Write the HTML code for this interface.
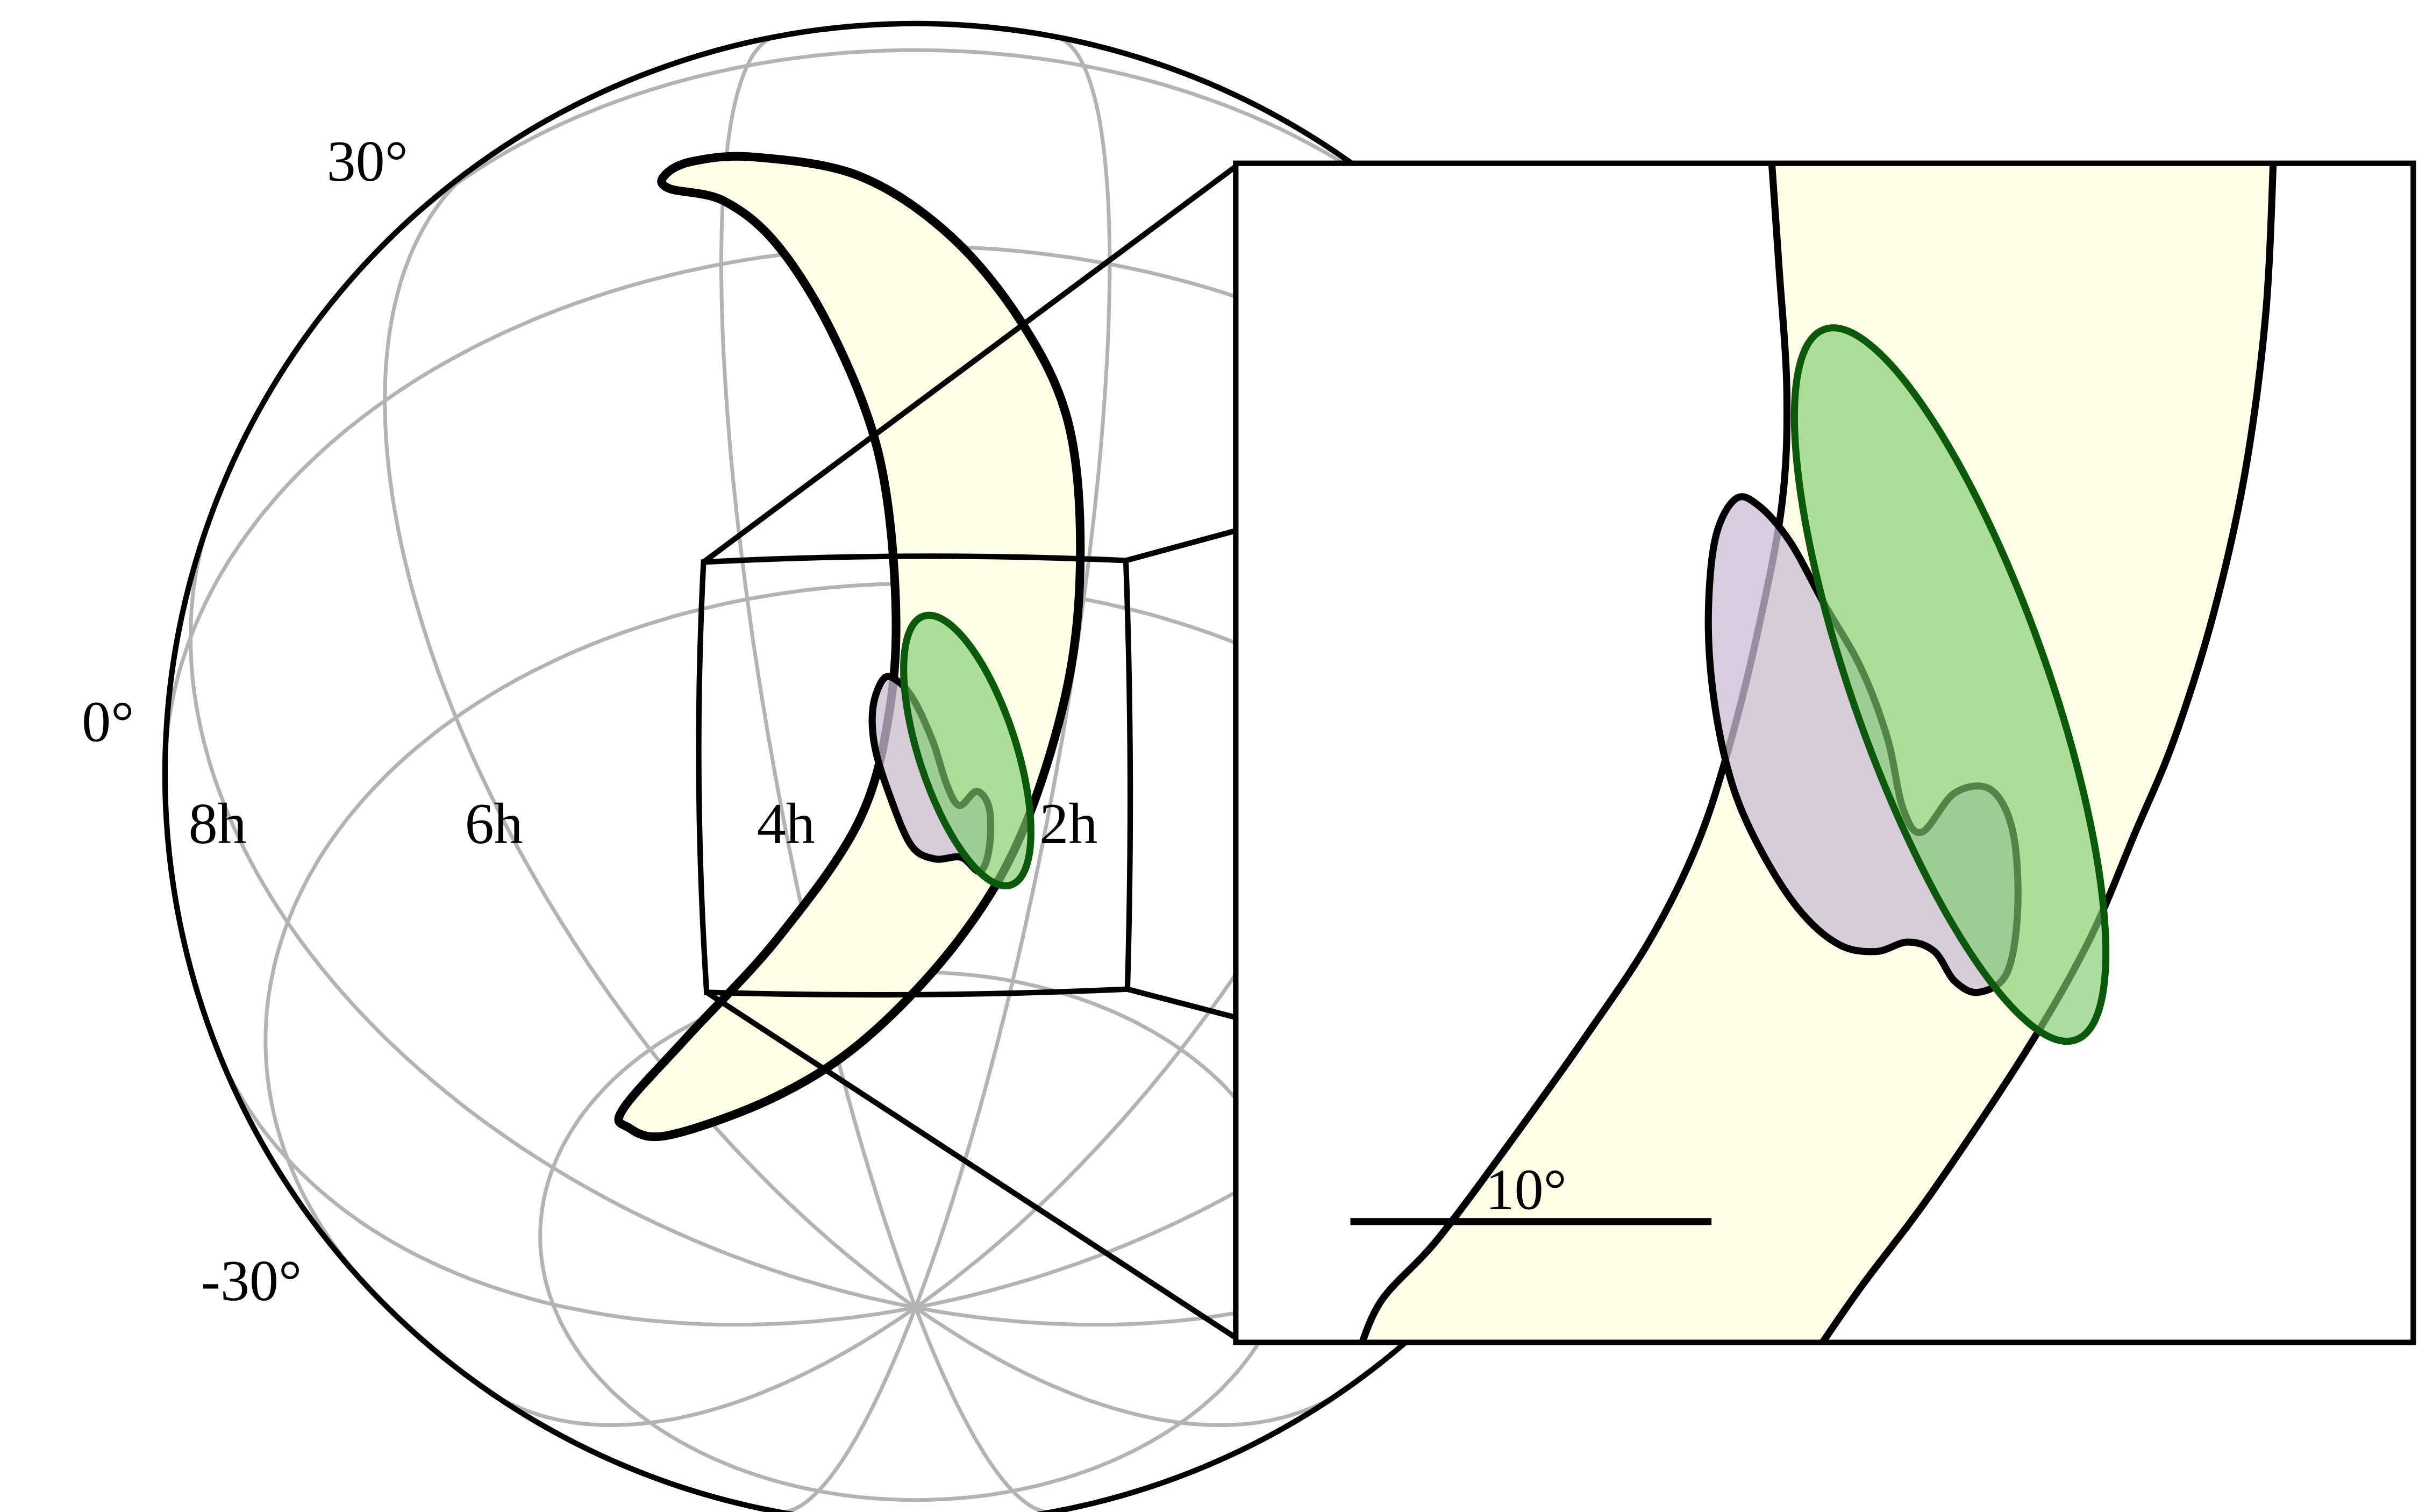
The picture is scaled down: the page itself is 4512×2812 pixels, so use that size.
<!DOCTYPE html>
<html><head><meta charset="utf-8">
<style>html,body{margin:0;padding:0;background:#fff}svg{display:block}</style>
</head><body>
<svg id="s" width="4512" height="2812" viewBox="0 0 1545 963" xmlns="http://www.w3.org/2000/svg">
<defs><clipPath id="cc"><circle cx="583" cy="493" r="478"/></clipPath></defs>
<rect width="1545" height="963" fill="#fff"/>
<g id="grid" clip-path="url(#cc)" fill="none" stroke="#b3b3b3" stroke-width="2.4"></g>
<circle cx="583" cy="493" r="478" fill="none" stroke="#000" stroke-width="3.5"/>
<path id="cres" fill="#fefee6" stroke="#000" stroke-width="5.5" stroke-linejoin="round"/>
<path id="pb1" fill="#c9bcd4" fill-opacity="0.75" stroke="#000" stroke-width="4.5"/>
<ellipse cx="616" cy="478" rx="31" ry="90" transform="rotate(-18 616 478)" fill="#7fcc70" fill-opacity="0.65" stroke="#0b5a0b" stroke-width="4.5"/>
<path d="M448,358 Q583,351 717,357 Q722,493 718,630 Q585,636 450,632 Q441,495 448,358 Z" fill="none" stroke="#000" stroke-width="3.5"/>
<g stroke="#000" stroke-width="3.5">
<line x1="448" y1="358" x2="787" y2="106"/>
<line x1="717" y1="357" x2="787" y2="338"/>
<line x1="718" y1="630" x2="787" y2="648"/>
<line x1="450" y1="632" x2="787" y2="852"/>
</g>
<g font-family="'Liberation Serif',serif" font-size="37" fill="#000">
<text x="208" y="115">30°</text>
<text x="52" y="472">0°</text>
<text x="128" y="828">-30°</text>
<text x="120" y="537">8h</text>
<text x="296" y="537">6h</text>
<text x="482" y="537">4h</text>
<text x="662" y="537">2h</text>
</g>
<svg x="787" y="104" width="750" height="751" viewBox="787 104 750 751" overflow="hidden">
<rect x="787" y="104" width="750" height="751" fill="#fff"/>
<path id="band" fill="#fefee6"/>
<path id="bl" fill="none" stroke="#000" stroke-width="4.5"/>
<path id="br" fill="none" stroke="#000" stroke-width="4.5"/>
<path id="pb2" fill="#c9bcd4" fill-opacity="0.75" stroke="#000" stroke-width="4.5"/>
<ellipse cx="1242" cy="436" rx="62" ry="240" transform="rotate(-19.5 1242 436)" fill="#7fcc70" fill-opacity="0.65" stroke="#0b5a0b" stroke-width="4.5"/>
<line x1="860" y1="778" x2="1090" y2="778" stroke="#000" stroke-width="4.5"/>
<text x="946" y="770" font-family="'Liberation Serif',serif" font-size="37">10°</text>
</svg>
<rect x="787" y="104" width="750" height="751" fill="none" stroke="#000" stroke-width="3.5"/>
</svg>
<script>
(function(){
function cr(P,closed){var n=P.length,s='M'+P[0][0]+','+P[0][1];
var last=closed?n:n-1;
for(var i=0;i<last;i++){
var p0=P[closed?(i-1+n)%n:Math.max(i-1,0)],p1=P[i],p2=P[(i+1)%n],p3=P[closed?(i+2)%n:Math.min(i+2,n-1)];
var c1=[p1[0]+(p2[0]-p0[0])/6,p1[1]+(p2[1]-p0[1])/6],c2=[p2[0]-(p3[0]-p1[0])/6,p2[1]-(p3[1]-p1[1])/6];
s+='C'+c1[0].toFixed(1)+','+c1[1].toFixed(1)+' '+c2[0].toFixed(1)+','+c2[1].toFixed(1)+' '+p2[0]+','+p2[1];}
return s+(closed?'Z':'');}
function set(id,d){document.getElementById(id).setAttribute('d',d);}
set('cres',cr([[423,112],[440,103],[480,100],[547,112],[605,150],[651,206],[680,268],[688,349],[680,436],[651,530],[611,598],[553,660],[495,698],[426,723],[400,718],[397,706],[438,660],[495,598],[547,523],[567,449],[570,374],[559,287],[530,212],[495,156],[461,128],[426,120]],true));
set('pb1',cr([[563,432],[556,450],[557,475],[566,505],[580,538],[595,547],[612,546],[624,555],[630,540],[630,515],[622,504],[611,513],[603,500],[594,472],[582,446],[572,434]],true));
var L=[[1128,98],[1133,170],[1138,250],[1135,320],[1120,400],[1100,480],[1080,540],[1050,600],[1010,660],[960,730],[915,790],[880,828],[865,862]];
var Rr=[[1448,98],[1443,200],[1430,300],[1410,390],[1385,470],[1360,530],[1330,600],[1290,670],[1230,760],[1185,820],[1156,862]];
set('bl',cr(L,false));set('br',cr(Rr,false));
var rrev=Rr.slice().reverse();
set('band',cr(L,false)+'L'+rrev[0][0]+','+rrev[0][1]+cr(rrev,false).replace(/^M[^C]*/,'')+'Z');
set('pb2',cr([[1105,318],[1120,322],[1140,345],[1162,385],[1185,425],[1202,470],[1212,515],[1224,530],[1245,505],[1268,503],[1282,530],[1285,580],[1278,620],[1260,632],[1245,625],[1232,606],[1215,600],[1195,606],[1172,602],[1148,582],[1125,548],[1105,505],[1093,455],[1088,400],[1092,345]],true));
var cx=583,cy=493,R=478,p0=-44.7*Math.PI/180,l0=0,d=Math.PI/180;
function pr(lat,lon){var f=lat*d,dl=lon*d-l0;
var x=R*Math.cos(f)*Math.sin(dl);
var y=R*(Math.cos(p0)*Math.sin(f)-Math.sin(p0)*Math.cos(f)*Math.cos(dl));
var z=Math.sin(p0)*Math.sin(f)+Math.cos(p0)*Math.cos(f)*Math.cos(dl);
return [cx+x,cy-y,z];}
var g=document.getElementById('grid'),ns='http://www.w3.org/2000/svg';
function add(pts){var s='',pen=false;for(var i=0;i<pts.length;i++){var p=pts[i];
if(p[2]>=-0.002){s+=(pen?'L':'M')+p[0].toFixed(1)+','+p[1].toFixed(1);pen=true;}else pen=false;}
var e=document.createElementNS(ns,'path');e.setAttribute('d',s);g.appendChild(e);}
for(var k=0;k<12;k++){var lon=15+30*k,pts=[];for(var la=-90;la<=90;la+=1)pts.push(pr(la,lon));add(pts);}
[-60,-30,0,30,60].forEach(function(la){var pts=[];for(var lo=0;lo<=360;lo+=1)pts.push(pr(la,lo));add(pts);});
})();
</script>
</body></html>
